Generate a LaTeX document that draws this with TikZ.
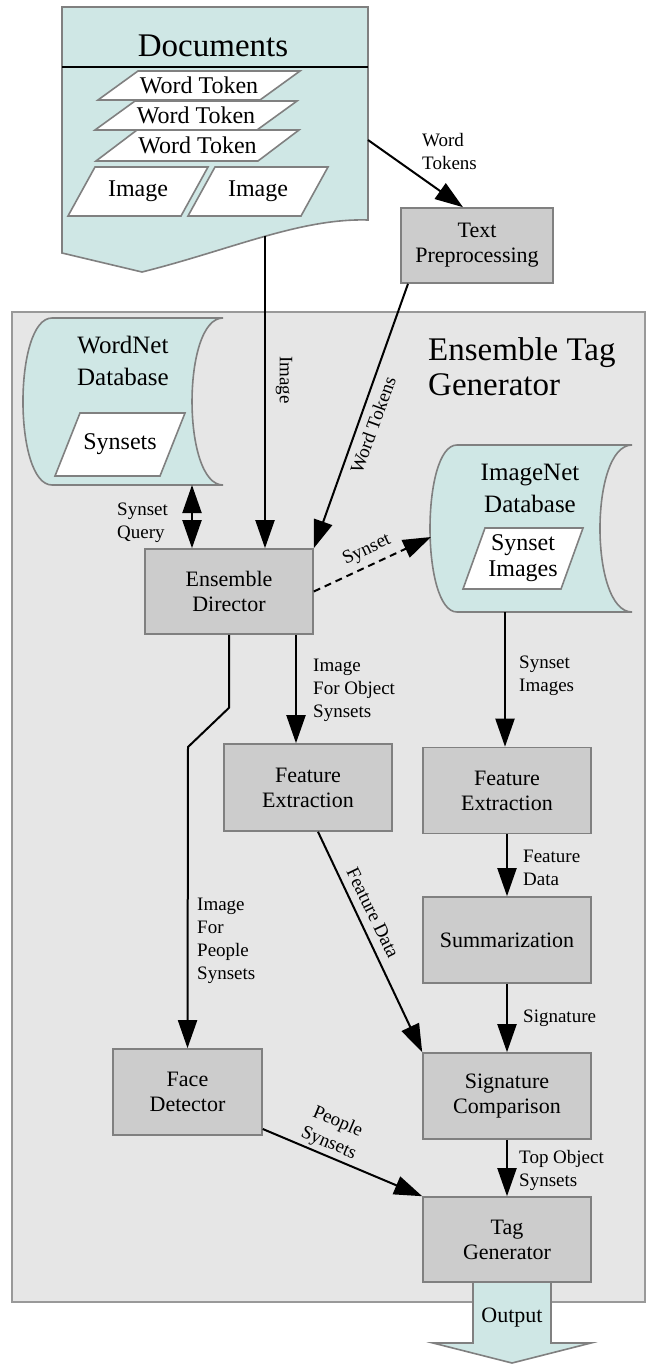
\documentclass[tikz,border=0pt]{standalone}
\usepackage{fontspec}
\setmainfont{Liberation Serif}
\usetikzlibrary{arrows.meta}
\definecolor{cyanfill}{HTML}{CFE7E5}
\definecolor{boxfill}{HTML}{CCCCCC}
\definecolor{boxline}{HTML}{808080}
\definecolor{contfill}{HTML}{E6E6E6}
\definecolor{contline}{HTML}{999999}
\newcommand\plg[7]{%
  \draw[shapeline, fill=white] (#2-#4+#6, #3-#5) -- (#2+#4+#6, #3-#5) -- (#2+#4-#6, #3+#5) -- (#2-#4-#6, #3+#5) -- cycle;
  \node[ptext] (#1) at (#2,#3) {#7};
}
\begin{document}
\begin{tikzpicture}[x=1pt,y=-1pt,
  shapeline/.style={draw=boxline, line width=1.6pt},
  procbox/.style={draw=boxline, fill=boxfill, line width=1.6pt, minimum width=168pt, minimum height=86pt, inner sep=0pt, align=center, font=\fontsize{22}{25}\selectfont},
  conn/.style={line width=2pt, -{Triangle[length=28pt,width=19pt]}},
  lbl/.style={font=\fontsize{19}{23}\selectfont, align=left, inner sep=0pt},
  ptext/.style={font=\fontsize{24}{26}\selectfont, align=center, inner sep=0pt},
  bigtitle/.style={font=\fontsize{33}{35}\selectfont, inner sep=0pt},
  dbtitle/.style={font=\fontsize{25}{32}\selectfont, align=center, inner sep=0pt}
]
\useasboundingbox (0,0) rectangle (646,1364);
\fill[white] (0,0) rectangle (646,1364);

% container
\draw[draw=contline, fill=contfill, line width=1.3pt] (12,312) rectangle (645,1302);
\node[bigtitle, align=left, anchor=west] (etg) at (428,367) {Ensemble Tag\\Generator};

% Documents
\draw[shapeline, fill=cyanfill] (62,7) -- (368,7) -- (368,220) .. controls (300,218) and (230,250) .. (142,272) -- (62,253) -- cycle;
\draw[line width=1.5pt] (62,67) -- (368,67);
\node[bigtitle] (docs) at (213,46) {Documents};
\plg{wt1}{199}{85.5}{81}{14.5}{20}{Word Token}
\plg{wt2}{196}{115.5}{81}{14.5}{20}{Word Token}
\plg{wt3}{197.5}{145.5}{81}{15.5}{20.5}{Word Token}
\plg{im1}{138}{191.5}{56.5}{24.5}{13.5}{Image}
\plg{im2}{258}{191.5}{56.5}{24.5}{13.5}{Image}
\coordinate (docsR) at (368,140);
\coordinate (docsB) at (265,236);

% WordNet
\draw[shapeline, fill=cyanfill] (52,318) -- (223,318) .. controls (181.7,318) and (181.7,485) .. (223,485) -- (52,485) .. controls (13.3,485) and (13.3,318) .. (52,318) -- cycle;
\node[dbtitle] (wn) at (123,361) {WordNet\\Database};
\plg{syn}{120}{444.5}{52.5}{31.5}{12.5}{Synsets}
\coordinate (wnB) at (192,485);

% ImageNet
\draw[shapeline, fill=cyanfill] (457,445) -- (632,445) .. controls (589.3,445) and (589.3,612) .. (632,612) -- (457,612) .. controls (421,612) and (421,445) .. (457,445) -- cycle;
\node[dbtitle] (inet) at (530,488) {ImageNet\\Database};
\plg{synimg}{523}{558.5}{49}{30.5}{11}{Synset\\Images}
\coordinate (inL) at (431,537);
\coordinate (inB) at (505,612);

% Output arrow
\draw[shapeline, fill=cyanfill] (473,1282) -- (551,1282) -- (551,1343) -- (591,1343) -- (512,1363) -- (433,1343) -- (473,1343) -- cycle;
\node[font=\fontsize{22}{25}\selectfont, inner sep=0pt] (out) at (512,1318) {Output};

% process boxes
\node[procbox, minimum width=152pt, minimum height=75pt] (TP) at (477,245.5) {Text\\Preprocessing};
\node[procbox, minimum height=85pt] (ED) at (229,591.5) {Ensemble\\Director};
\node[procbox, minimum height=87pt] (FE1) at (308,787.5) {Feature\\Extraction};
\node[procbox] (FE2) at (507,790.5) {Feature\\Extraction};
\node[procbox] (SUM) at (507,940) {Summarization};
\node[procbox] (SC) at (507,1096) {Signature\\Comparison};
\node[procbox, minimum width=149pt] (FD) at (187.5,1092) {Face\\Detector};
\node[procbox, minimum height=85pt] (TG) at (507,1239.5) {Tag\\Generator};

% connectors
\draw[conn] (docsR) -- ([xshift=-14pt]TP.north);
\node[lbl, anchor=west] (l1) at (422,152) {Word\\Tokens};

\draw[conn] (docsB) -- (docsB |- ED.north);
\node[lbl, rotate=-90] (l2) at (284,380) {Image};

\draw[conn] ([xshift=-69pt]TP.south) -- (ED.north east);
\node[lbl, rotate=70] (l3) at (373,425) {Word Tokens};

\draw[line width=2pt, {Triangle[length=28pt,width=19pt]}-{Triangle[length=28pt,width=19pt]}] (wnB) -- (wnB |- ED.north);
\node[lbl, anchor=west] (l4) at (117,523) {Synset\\Query};

\draw[conn, dash pattern=on 7pt off 5pt] (ED.east) -- (inL);
\node[lbl, rotate=25] (l5) at (367,550) {Synset};

\draw[conn] (ED.south) -- ++(0,73) -- (188,747) -- (FD.north);
\node[lbl, anchor=west] (l6) at (197,941) {Image\\For\\People\\Synsets};

\draw[conn] ([xshift=67pt]ED.south) -- ([xshift=67pt]ED.south |- FE1.north);
\node[lbl, anchor=west] (l7) at (313,690) {Image\\For Object\\Synsets};

\draw[conn] (inB) -- (inB |- FE2.north);
\node[lbl, anchor=west] (l8) at (519,676) {Synset\\Images};

\draw[conn] ([xshift=10pt]FE1.south) -- (SC.north west);
\node[lbl, rotate=-64] (l9) at (373,913) {Feature Data};

\draw[conn] (FE2.south) -- (SUM.north);
\node[lbl, anchor=west] (l10) at (523,868) {Feature\\Data};

\draw[conn] (SUM.south) -- (SC.north);
\node[lbl, anchor=west] (l11) at (523,1018) {Signature};

\draw[conn] (SC.south) -- (TG.north);
\node[lbl, anchor=west] (l12) at (519,1170) {Top Object\\Synsets};

\draw[conn] ([yshift=-37pt]FD.east) -- (TG.north west);
\node[lbl, align=center, rotate=-23] (l13) at (333,1133) {People\\Synsets};
\end{tikzpicture}
\end{document}
